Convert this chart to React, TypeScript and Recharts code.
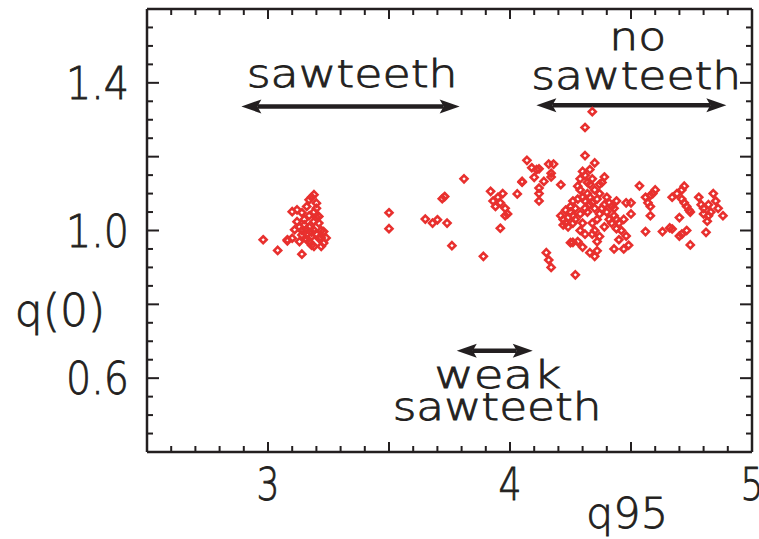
import React from 'react';
import { ScatterChart, Scatter, XAxis, YAxis, ReferenceLine, ReferenceDot } from 'recharts';

// ---- data: q95 (x) and q(0) (y) for each discharge ----
const q95Values = [
  2.98, 3.04, 3.08, 3.14, 3.19, 3.17, 3.16, 3.2, 3.12, 3.1, 3.14, 3.21, 3.19, 3.12, 3.11, 3.16, 3.23, 3.14, 3.18, 3.21,
  3.23, 3.19, 3.08, 3.1, 3.17, 3.22, 3.13, 3.15, 3.17, 3.19, 3.21, 3.14, 3.2, 3.18, 3.22, 3.16, 3.19, 3.2, 3.17, 3.13,
  3.24, 3.18,
  3.5, 3.5, 3.65, 3.68, 3.7, 3.74, 3.72, 3.73, 3.76, 3.81, 3.89, 3.92, 3.93, 3.95, 3.96, 3.97, 3.94, 3.96, 3.98, 3.99,
  3.98, 4.03, 4.05, 4.07, 4.09, 4.11, 4.1, 4.12, 4.14, 4.05, 4.12, 4.12, 4.12, 4.16, 4.18, 4.17, 4.17, 4.21, 4.15, 4.16,
  4.17, 4.27,
  4.34, 4.31, 4.31, 4.35, 4.21, 4.22, 4.23, 4.24, 4.22, 4.25, 4.26, 4.28, 4.29, 4.3, 4.31, 4.32, 4.33, 4.34, 4.35, 4.33,
  4.25, 4.25, 4.24, 4.26, 4.3, 4.31, 4.33, 4.34, 4.36, 4.29, 4.31, 4.28, 4.3, 4.33, 4.35, 4.36, 4.34, 4.36, 4.37, 4.38,
  4.39, 4.41, 4.42, 4.43, 4.44, 4.37, 4.38, 4.39, 4.37, 4.43, 4.44, 4.45, 4.47, 4.46, 4.48, 4.49, 4.47, 4.45, 4.43, 4.44,
  4.48, 4.5, 4.5, 4.535, 4.56, 4.57, 4.58, 4.59, 4.58, 4.6, 4.58, 4.56, 4.63, 4.66, 4.67, 4.7, 4.71, 4.73, 4.745, 4.67,
  4.69, 4.71, 4.72, 4.71, 4.72, 4.73, 4.74, 4.745, 4.7, 4.78, 4.79, 4.8, 4.82, 4.8, 4.82, 4.83, 4.815, 4.81, 4.88, 4.84,
  4.85, 4.86, 4.27, 4.29, 4.32, 4.35, 4.4, 4.41, 4.39, 4.32, 4.28, 4.26, 4.34, 4.36, 4.3,
  3.15, 3.18, 3.2, 3.16, 3.22, 4.23, 4.26, 4.29, 4.33, 4.37, 4.4, 4.42, 4.31, 4.35, 4.27,
];
const q0Values = [
  0.975, 0.946, 0.972, 0.936, 1.097, 1.083, 1.065, 1.074, 1.056, 1.051, 1.048, 1.038, 1.024, 1.024, 1.002, 1.002, 0.997, 0.988, 0.984, 0.979,
  0.966, 0.957, 0.975, 0.979, 0.97, 0.957, 0.97, 1.03, 1.01, 1.05, 1.02, 1.0, 0.99, 0.96, 0.98, 0.99, 1.0, 1.06, 1.04, 1.01,
  0.98, 1.09,
  1.048, 1.005, 1.031, 1.02, 1.029, 1.02, 1.086, 1.092, 0.959, 1.14, 0.93, 1.106, 1.08, 1.09, 1.075, 1.1, 1.065, 1.006, 1.06, 1.045,
  1.04, 1.099, 1.131, 1.19, 1.17, 1.165, 1.144, 1.167, 1.133, 1.133, 1.115, 1.1, 1.08, 1.18, 1.18, 1.155, 1.145, 1.124, 0.94, 0.92,
  0.9, 0.88,
  1.322, 1.279, 1.203, 1.183, 1.04, 1.03, 1.02, 1.01, 1.015, 0.967, 0.968, 1.12, 1.14, 1.16, 1.15, 1.13, 1.125, 1.14, 1.11, 1.165,
  1.065, 1.05, 1.035, 1.04, 1.09, 1.08, 1.07, 1.075, 1.085, 1.0, 0.99, 0.97, 0.955, 0.94, 0.93, 0.945, 1.02, 1.03, 1.045, 1.06,
  1.07, 1.075, 1.065, 1.06, 1.08, 0.984, 1.13, 1.145, 1.125, 1.04, 1.03, 1.02, 1.03, 1.0, 0.985, 0.96, 0.95, 0.975, 0.95, 1.005,
  1.075, 1.075, 1.045, 1.121, 1.09, 1.075, 1.095, 1.1, 1.065, 1.11, 1.04, 0.997, 0.997, 1.007, 1.004, 0.985, 0.99, 1.0, 0.961, 1.09,
  1.1, 1.11, 1.12, 1.085, 1.075, 1.065, 1.055, 1.05, 1.035, 1.09, 1.07, 1.06, 1.07, 1.045, 1.04, 1.05, 1.025, 0.995, 1.04, 1.1,
  1.08, 1.06, 1.06, 1.045, 1.05, 1.06, 1.05, 1.03, 1.01, 1.1, 1.085, 1.02, 0.99, 0.97, 1.02,
  1.015, 0.995, 1.035, 0.975, 1.0, 1.055, 1.08, 1.11, 1.09, 1.1, 1.09, 1.02, 1.06, 1.0, 1.03,
];

// ---- axes ----
const xDomain = [2.5, 5];
const yDomain = [0.4, 1.6];
const xTicks = [2.5, 2.6, 2.7, 2.8, 2.9, 3.0, 3.1, 3.2, 3.3, 3.4, 3.5, 3.6, 3.7, 3.8, 3.9, 4.0, 4.1, 4.2, 4.3, 4.4, 4.5, 4.6, 4.7, 4.8, 4.9, 5.0];
const xMajorTicks = [2.5, 3, 3.5, 4, 4.5, 5];
const xLabelTicks = [3, 4, 5];
const yTicks = [0.4, 0.45, 0.5, 0.55, 0.6, 0.65, 0.7, 0.75, 0.8, 0.85, 0.9, 0.95, 1.0, 1.05, 1.1, 1.15, 1.2, 1.25, 1.3, 1.35, 1.4, 1.45, 1.5, 1.55, 1.6];
const yMajorTicks = [0.4, 0.6, 0.8, 1.0, 1.2, 1.4, 1.6];
const yLabelTicks = [0.6, 1.0, 1.4];
const xAxisTitle = 'q95';
const yAxisTitle = 'q(0)';

// ---- annotations (data coordinates) ----
const arrows = [
  { from: 2.89, to: 3.792, level: 1.336 },
  { from: 4.109, to: 4.894, level: 1.339 },
  { from: 3.78, to: 4.094, level: 0.674 },
];
const notes = [
  { text: 'sawteeth', x: 3.348, y: 1.39, w: 211 },
  { text: 'no', x: 4.528, y: 1.49, w: 57 },
  { text: 'sawteeth', x: 4.522, y: 1.384, w: 210 },
  { text: 'weak', x: 3.949, y: 0.574, w: 127 },
  { text: 'sawteeth', x: 3.947, y: 0.487, w: 209 },
];

const data = q95Values.map((x, i) => ({ x, y: q0Values[i] }));

const INK = '#231f20';
const RED = '#e8302e';
const FONT = '"DejaVu Sans", sans-serif';
const WEIGHT = 200;
const TEXT_STROKE = 0.8;

const near = (v: number, list: number[]) => list.some((t) => Math.abs(t - v) < 1e-6);

const textStyle = {
  fill: INK,
  fontFamily: FONT,
  fontWeight: WEIGHT,
  stroke: INK,
  strokeWidth: TEXT_STROKE,
};

const BottomTick = (props: any) => {
  const { x, y, payload } = props;
  const v = payload.value;
  const len = near(v, xMajorTicks) ? 10 : 6;
  return (
    <g>
      <line x1={x} x2={x} y1={y} y2={y - len} stroke={INK} strokeWidth={2} />
      {near(v, xLabelTicks) && (
        <text x={x} y={y + 48} textAnchor="middle" fontSize={45} textLength={23} lengthAdjust="spacingAndGlyphs" {...textStyle}>
          {String(Math.round(v))}
        </text>
      )}
    </g>
  );
};

const TopTick = (props: any) => {
  const { x, y, payload } = props;
  const len = near(payload.value, xMajorTicks) ? 10 : 6;
  return <line x1={x} x2={x} y1={y} y2={y + len} stroke={INK} strokeWidth={2} />;
};

const LeftTick = (props: any) => {
  const { x, y, payload } = props;
  const v = payload.value;
  const len = near(v, yMajorTicks) ? 12 : 6;
  return (
    <g>
      <line x1={x} x2={x + len} y1={y} y2={y} stroke={INK} strokeWidth={2} />
      {near(v, yLabelTicks) && (
        <text x={x - 18} y={y + 16} textAnchor="end" fontSize={45} textLength={63} lengthAdjust="spacingAndGlyphs" {...textStyle}>
          {v.toFixed(1)}
        </text>
      )}
    </g>
  );
};

const RightTick = (props: any) => {
  const { x, y, payload } = props;
  const len = near(payload.value, yMajorTicks) ? 12 : 6;
  return <line x1={x} x2={x - len} y1={y} y2={y} stroke={INK} strokeWidth={2} />;
};

const Diamond = (props: any) => {
  const { cx, cy } = props;
  if (cx == null || cy == null) return null;
  const r = 3.5;
  return (
    <path
      d={`M${cx},${cy - r}L${cx + r},${cy}L${cx},${cy + r}L${cx - r},${cy}Z`}
      fill="none"
      stroke={RED}
      strokeWidth={2.6}
    />
  );
};

const Nothing = () => null;

const ArrowShape = (props: any) => {
  const { x1, y1, x2 } = props;
  const xa = Math.min(x1, x2);
  const xb = Math.max(x1, x2);
  const y = y1;
  const head = 20;
  const hw = 7;
  const notch = 4;
  return (
    <g>
      <line x1={xa + head - notch} y1={y} x2={xb - head + notch} y2={y} stroke={INK} strokeWidth={4.5} />
      <path d={`M${xa},${y}L${xa + head},${y - hw}L${xa + head - notch},${y}L${xa + head},${y + hw}Z`} fill={INK} />
      <path d={`M${xb},${y}L${xb - head},${y - hw}L${xb - head + notch},${y}L${xb - head},${y + hw}Z`} fill={INK} />
    </g>
  );
};

const makeNote = (text: string, w: number) => (props: any) => (
  <text
    x={props.cx}
    y={props.cy}
    textAnchor="middle"
    fontSize={37}
    textLength={w}
    lengthAdjust="spacingAndGlyphs"
    {...textStyle}
  >
    {text}
  </text>
);

const YTitle = (props: any) => {
  const vb = props.viewBox || { x: 0, y: 0 };
  return (
    <text x={vb.x + 60} y={vb.y + 317} textAnchor="middle" fontSize={44} {...textStyle}>
      {yAxisTitle}
    </text>
  );
};

const XTitle = (props: any) => {
  const vb = props.viewBox || { x: 0, y: 0 };
  return (
    <text x={vb.x + 480} y={vb.y + 76} textAnchor="middle" fontSize={43} {...textStyle}>
      {xAxisTitle}
    </text>
  );
};

export default function App() {
  return (
    <div style={{ position: 'absolute', left: 0, top: 0, width: 759, height: 539, background: '#fff' }}>
      <ScatterChart width={759} height={539} margin={{ top: 0, right: 0, bottom: 0, left: 0 }}>
        <XAxis
          xAxisId="bottom"
          type="number"
          dataKey="x"
          orientation="bottom"
          domain={xDomain}
          ticks={xTicks}
          interval={0}
          height={87}
          tickSize={0}
          tickMargin={0}
          tickLine={false}
          axisLine={{ stroke: INK, strokeWidth: 2.5 }}
          tick={<BottomTick />}
          label={<XTitle />}
          allowDataOverflow
        />
        <XAxis
          xAxisId="top"
          type="number"
          dataKey="x"
          orientation="top"
          domain={xDomain}
          ticks={xTicks}
          interval={0}
          height={9}
          tickSize={0}
          tickMargin={0}
          tickLine={false}
          axisLine={{ stroke: INK, strokeWidth: 2.5 }}
          tick={<TopTick />}
          allowDataOverflow
        />
        <YAxis
          yAxisId="left"
          type="number"
          dataKey="y"
          orientation="left"
          domain={yDomain}
          ticks={yTicks}
          interval={0}
          width={147}
          tickSize={0}
          tickMargin={0}
          tickLine={false}
          axisLine={{ stroke: INK, strokeWidth: 2.5 }}
          tick={<LeftTick />}
          label={<YTitle />}
          allowDataOverflow
        />
        <YAxis
          yAxisId="right"
          type="number"
          dataKey="y"
          orientation="right"
          domain={yDomain}
          ticks={yTicks}
          interval={0}
          width={7}
          tickSize={0}
          tickMargin={0}
          tickLine={false}
          axisLine={{ stroke: INK, strokeWidth: 2.5 }}
          tick={<RightTick />}
          allowDataOverflow
        />
        <Scatter
          data={data}
          xAxisId="top"
          yAxisId="right"
          shape={<Nothing />}
          isAnimationActive={false}
        />
        <Scatter
          data={data}
          xAxisId="bottom"
          yAxisId="left"
          shape={<Diamond />}
          isAnimationActive={false}
        />
        {arrows.map((a, i) => (
          <ReferenceLine
            key={`arr${i}`}
            xAxisId="bottom"
            yAxisId="left"
            segment={[
              { x: a.from, y: a.level },
              { x: a.to, y: a.level },
            ]}
            shape={ArrowShape}
          />
        ))}
        {notes.map((n, i) => (
          <ReferenceDot
            key={`note${i}`}
            xAxisId="bottom"
            yAxisId="left"
            x={n.x}
            y={n.y}
            r={0}
            shape={makeNote(n.text, n.w)}
          />
        ))}
      </ScatterChart>
    </div>
  );
}
